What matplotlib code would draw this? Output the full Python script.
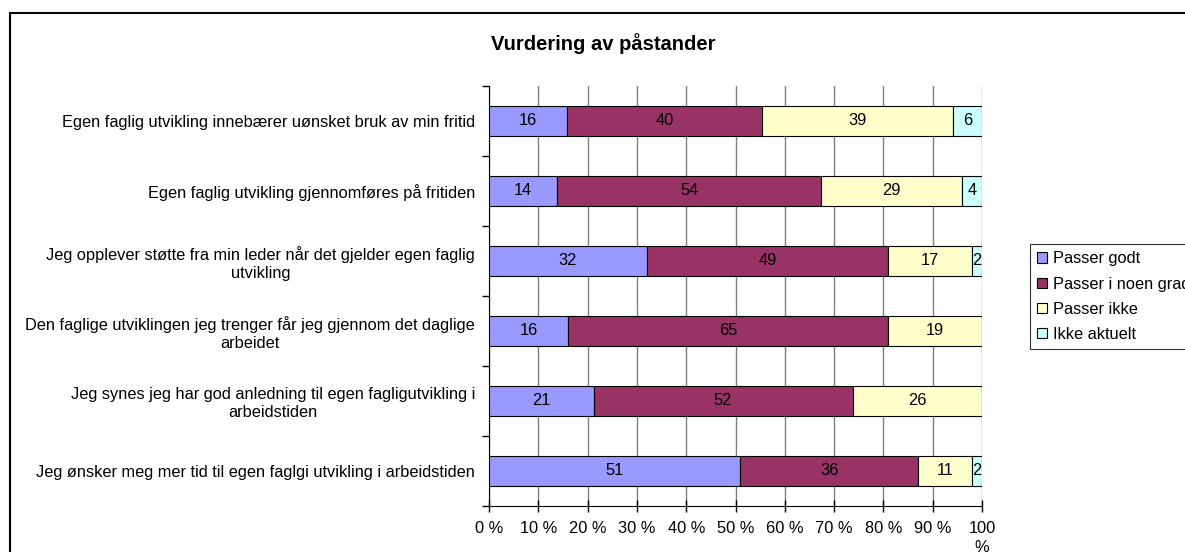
import numpy as np
import matplotlib.pyplot as plt
from matplotlib.patches import Rectangle, Patch

plt.rcParams['font.family'] = ['Liberation Sans', 'DejaVu Sans']

# data
categories = [
    "Egen faglig utvikling innebærer uønsket bruk av min fritid",
    "Egen faglig utvikling gjennomføres på fritiden",
    "Jeg opplever støtte fra min leder når det gjelder egen faglig\nutvikling",
    "Den faglige utviklingen jeg trenger får jeg gjennom det daglige\narbeidet",
    "Jeg synes jeg har god anledning til egen fagligutvikling i\narbeidstiden",
    "Jeg ønsker meg mer tid til egen faglgi utvikling i arbeidstiden",
]
passer_godt = [16, 14, 32, 16, 21, 51]
passer_noen_grad = [40, 54, 49, 65, 52, 36]
passer_ikke = [39, 29, 17, 19, 26, 11]
ikke_aktuelt = [6, 4, 2, 0, 0, 2]

series_names = ["Passer godt", "Passer i noen grad", "Passer ikke", "Ikke aktuelt"]
colors = ["#9999FF", "#993366", "#FFFFCC", "#CCFFFF"]
xtick_labels = ["0 %", "10 %", "20 %", "30 %", "40 %", "50 %", "60 %",
                "70 %", "80 %", "90 %", "100\n%"]

fs = 11.8
W, H = 1185, 552
fig = plt.figure(figsize=(W / 100, H / 100), dpi=100)
ax = fig.add_axes([489 / W, 1 - 506 / H, (982 - 489) / W, (506 - 86) / H])

data = np.array([passer_godt, passer_noen_grad, passer_ikke, ikke_aktuelt], dtype=float)
totals = data.sum(axis=0)
pct = data / totals * 100  # 100% stacked, like excel
y = np.arange(len(categories))

left = np.zeros(len(categories))
for i in range(len(series_names)):
    ax.barh(y, pct[i], left=left, height=0.44, color=colors[i],
            edgecolor="black", linewidth=0.8, zorder=3)
    for j in range(len(categories)):
        if data[i, j] > 0:
            ax.text(left[j] + pct[i, j] / 2, y[j], "%d" % data[i, j],
                    ha="center", va="center", fontsize=fs, zorder=4)
    left += pct[i]

ax.set_xlim(0, 100)
ax.set_ylim(len(categories) - 0.5, -0.5)
ax.set_xticks(np.arange(0, 101, 10))
ax.set_xticklabels(xtick_labels, fontsize=fs, linespacing=1.35)
ax.xaxis.grid(True, color="#808080", linewidth=1, zorder=0)
ax.tick_params(axis="x", direction="inout", length=8, width=1, pad=7)

ax.set_yticks(y)
ax.set_yticklabels(categories, fontsize=fs, multialignment="center", linespacing=1.2)
ax.set_yticks(np.arange(-0.5, len(categories), 1), minor=True)
ax.tick_params(axis="y", which="major", length=0, pad=10)
ax.tick_params(axis="y", which="minor", direction="out", length=5, width=1)

ax.spines["top"].set_visible(False)
ax.spines["right"].set_visible(False)

fig.text(603 / W, 1 - 44 / H, "Vurdering av påstander", ha="center", va="center",
         fontsize=14.5, fontweight="bold")

handles = [Patch(facecolor=c, edgecolor="black", linewidth=0.8) for c in colors]
leg = fig.legend(handles, series_names, loc="upper left",
                 bbox_to_anchor=(1030 / W, 1 - 244 / H), fontsize=fs,
                 frameon=True, fancybox=False, handlelength=0.6, handleheight=0.6,
                 handletextpad=0.35, labelspacing=0.62, borderpad=0.45, borderaxespad=0)
leg.get_frame().set_edgecolor("black")
leg.get_frame().set_linewidth(0.8)

# outer chart frame
fig.patches.append(Rectangle((10 / W, -0.1), 1.2, (H - 13) / H + 0.1, transform=fig.transFigure,
                             fill=False, edgecolor="black", linewidth=1.5))

fig.savefig("out.png", dpi=100)
